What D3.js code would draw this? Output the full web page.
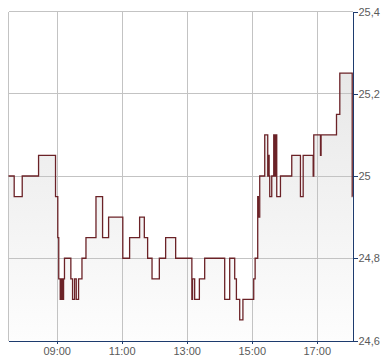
<!DOCTYPE html>
<html><head><meta charset="utf-8">
<script src="https://cdn.jsdelivr.net/npm/d3@7"></script>
<style>body{margin:0;background:#fff}svg{display:block}</style>
</head><body>
<svg id="c" width="390" height="364"></svg>
<script>
// ---- data ----
const times = ["07:31:00","07:41:30","07:56:20","08:26:30","08:57:50","09:02:00","09:03:45","09:06:30","09:07:48","09:08:54","09:10:12","09:11:30","09:12:40","09:14:20",
"09:26:06","09:29:15","09:32:56","09:36:05","09:40:20","09:46:37","09:54:00","10:12:29","10:24:40","10:35:46","11:02:00","11:14:34","11:33:02","11:41:43","11:47:49","11:55:57","12:09:26","12:21:04","12:39:33",
"13:09:29","13:10:46","13:14:39","13:23:20","13:33:08","14:10:05","14:19:19","14:28:34","14:31:42","14:37:48","14:43:43","15:03:40","15:06:15","15:11:03","15:12:10","15:14:45","15:24:00","15:29:32","15:31:11","15:32:06","15:33:13","15:36:55","15:40:37","15:42:50","15:43:45","15:46:10","15:53:00",
"16:13:52","16:29:56","16:34:56","16:53:25","16:54:31","17:06:54","17:08:00","17:36:28","17:42:34","18:05:28","18:06:00"];
const prices = [25.00,24.95,25.00,25.05,24.95,24.85,24.75,24.70,24.75,24.70,24.75,24.70,24.75,24.80,
24.75,24.70,24.75,24.70,24.75,24.80,24.85,24.95,24.85,24.90,24.80,24.85,24.90,24.85,24.80,24.75,24.80,24.85,24.80,
24.70,24.75,24.70,24.75,24.80,24.70,24.80,24.75,24.70,24.65,24.70,24.75,24.80,24.95,24.90,25.00,25.10,25.00,25.05,25.00,24.95,25.00,25.10,25.00,25.10,24.95,25.00,
25.05,24.95,25.05,25.00,25.10,25.05,25.10,25.15,25.25,24.95,24.95];
const xTickTimes = ["09:00","11:00","13:00","15:00","17:00"];
const yTickValues = [24.6,24.8,25.0,25.2,25.4];
const yTickLabels = ["24,6","24,8","25","25,2","25,4"];
const xDomain = ["07:31","18:06"];

// ---- chart ----
const parseS = d3.timeParse("%H:%M:%S"), parseM = d3.timeParse("%H:%M");
const data = times.map((t,i)=>({t:parseS(t), v:prices[i]}));
const svg = d3.select("#c");
const L = 8.5, R = 352.5, T = 11.5, B = 340.5;
const x = d3.scaleTime().domain(xDomain.map(parseM)).range([L,R]);
const y = d3.scaleLinear().domain([24.6,25.4]).range([B,T]);

const defs = svg.append("defs");
const g = defs.append("linearGradient").attr("id","fill").attr("gradientUnits","userSpaceOnUse")
  .attr("x1",0).attr("y1",T).attr("x2",0).attr("y2",B);
g.append("stop").attr("offset",0).attr("stop-color","#e3e3e3");
g.append("stop").attr("offset",1).attr("stop-color","#fdfdfd");

// area
svg.append("path").datum(data)
  .attr("d", d3.area().curve(d3.curveStepAfter).x(d=>x(d.t)).y0(B).y1(d=>y(d.v)))
  .attr("fill","url(#fill)");

// grid
const grid = svg.append("g").attr("stroke","#c3c3c3").attr("stroke-width",1).attr("shape-rendering","crispEdges");
xTickTimes.map(parseM).forEach(t=>{
  grid.append("line").attr("x1",Math.round(x(t))+0.5).attr("x2",Math.round(x(t))+0.5).attr("y1",T).attr("y2",B);
});
grid.append("line").attr("x1",L).attr("x2",L).attr("y1",T).attr("y2",B);
yTickValues.filter(v=>v>24.6).forEach(v=>{
  grid.append("line").attr("x1",L).attr("x2",R).attr("y1",y(v)).attr("y2",y(v));
});

// line
svg.append("path").datum(data)
  .attr("d", d3.line().curve(d3.curveStepAfter).x(d=>x(d.t)).y(d=>y(d.v)))
  .attr("fill","none").attr("stroke","#6b2227").attr("stroke-width",1.3);

// axes
const axisColor = "#1d3b6e";
const xa = svg.append("g").attr("transform",`translate(0,${B})`)
  .call(d3.axisBottom(x).tickValues(xTickTimes.map(parseM)).tickFormat(d3.timeFormat("%H:%M")).tickSizeInner(3).tickSizeOuter(0));
const ya = svg.append("g").attr("transform",`translate(${R},0)`)
  .call(d3.axisRight(y).tickValues(yTickValues).tickFormat((d,i)=>yTickLabels[i]).tickSizeInner(5).tickSizeOuter(0));
[xa,ya].forEach(a=>{
  a.selectAll("path,line").attr("stroke",axisColor).attr("shape-rendering","crispEdges");
  a.selectAll("text").attr("fill","#5a5a5a").style("font-family","'Liberation Sans', Arial, sans-serif").style("font-size","11px");
});
xa.selectAll("text").attr("dy","0.95em").attr("y",4);
ya.selectAll("text").attr("x",6);
</script>
</body></html>
